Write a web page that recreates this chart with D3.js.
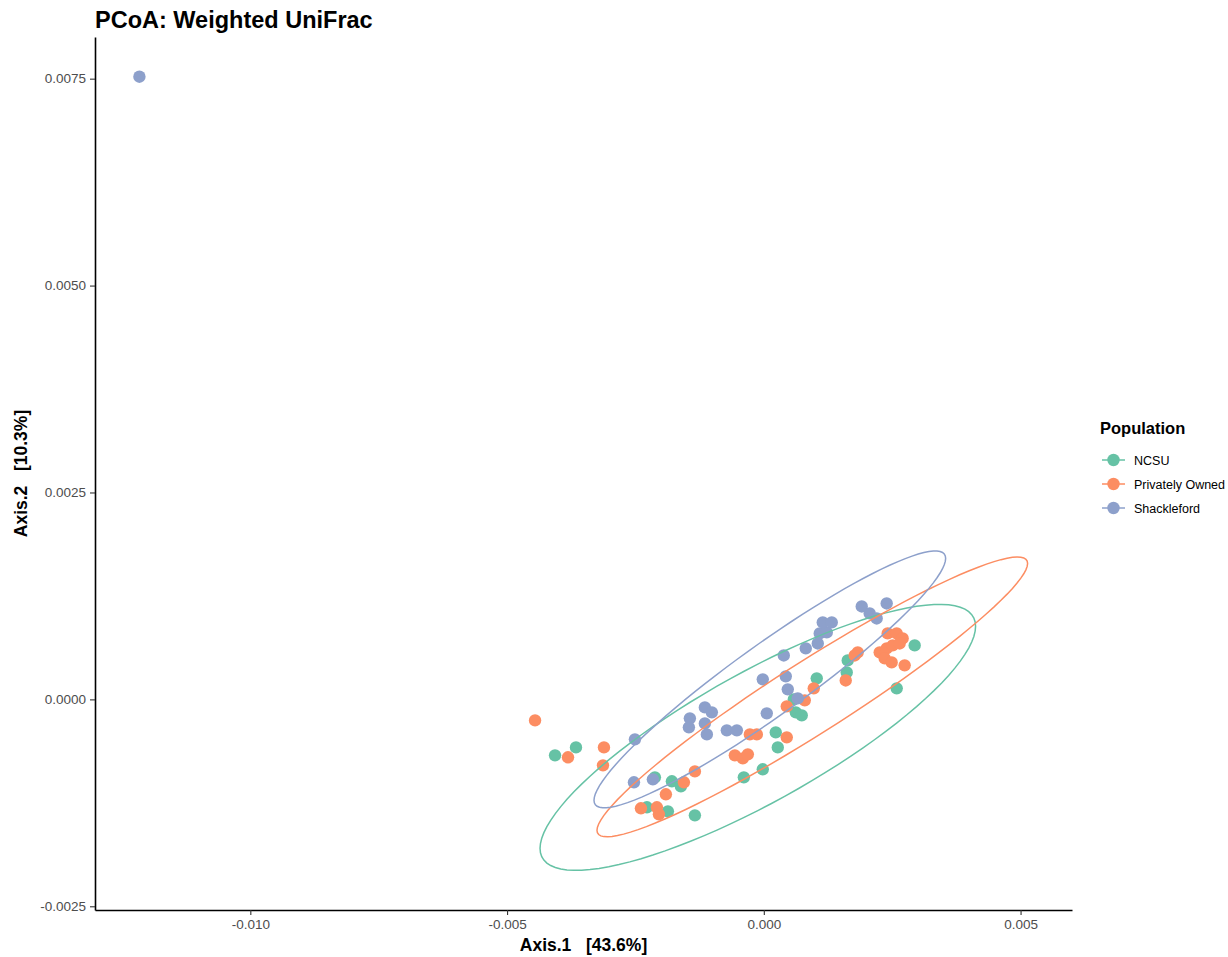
<!DOCTYPE html>
<html>
<head>
<meta charset="utf-8">
<script src="https://cdn.jsdelivr.net/npm/d3@7/dist/d3.min.js"></script>
<style>
  body { margin: 0; background: #ffffff; }
  svg { display: block; }
  text { font-family: "Liberation Sans", Arial, Helvetica, sans-serif; white-space: pre; }
</style>
</head>
<body>
<svg id="chart" width="1228" height="957"></svg>
<script>
// ---- Data: PCoA scores (Axis.1, Axis.2) per population ----
const groups = ["NCSU", "Privately Owned", "Shackleford"];
const groupColors = ["#66C2A5", "#FC8D62", "#8DA0CB"];

const ncsuX = [-0.004066, -0.003658, -0.002121, -0.001790, -0.001615, -0.002276, -0.001868, -0.001342,
  -0.000389, -0.000020, 0.000233, 0.000272, 0.000584, 0.000623, 0.000739, 0.001031, 0.001634, 0.001615,
  0.002938, 0.002588];
const ncsuY = [-0.000676, -0.000580, -0.000942, -0.000990, -0.001051, -0.001304, -0.001353, -0.001401,
  -0.000942, -0.000845, -0.000399, -0.000580, 0.000000, -0.000157, -0.000193, 0.000254, 0.000471, 0.000326,
  0.000652, 0.000133];

const ownedX = [-0.004455, -0.003813, -0.003113, -0.003132, -0.002393, -0.002082, -0.002043, -0.001907,
  -0.001556, -0.001342, -0.000564, -0.000409, -0.000311, -0.000272, -0.000136, 0.000447, 0.000447, 0.000798,
  0.000973, 0.001595, 0.001829, 0.001770, 0.002412, 0.002588, 0.002704, 0.002257, 0.002393, 0.002510,
  0.002646, 0.002354, 0.002490, 0.002743];
const ownedY = [-0.000254, -0.000700, -0.000580, -0.000797, -0.001316, -0.001304, -0.001389, -0.001147,
  -0.001002, -0.000870, -0.000676, -0.000713, -0.000664, -0.000423, -0.000423, -0.000459, -0.000085, -0.000012,
  0.000133, 0.000229, 0.000568, 0.000531, 0.000797, 0.000797, 0.000737, 0.000568, 0.000616, 0.000652,
  0.000676, 0.000495, 0.000447, 0.000411];

const shackX = [-0.012160, -0.002510, -0.002529, -0.002160, -0.001148, -0.001012, -0.001440, -0.001459,
  -0.001148, -0.001109, -0.000720, -0.000525, 0.000058, -0.000020, 0.000428, 0.000467, 0.000661, 0.000389,
  0.000817, 0.001051, 0.001089, 0.001226, 0.001148, 0.001323, 0.001907, 0.002062, 0.002198, 0.002393];
const shackY = [0.007524, -0.000483, -0.001002, -0.000966, -0.000097, -0.000157, -0.000229, -0.000338,
  -0.000290, -0.000423, -0.000374, -0.000374, -0.000169, 0.000242, 0.000278, 0.000121, 0.000012, 0.000531,
  0.000616, 0.000676, 0.000797, 0.000809, 0.000930, 0.000930, 0.001123, 0.001039, 0.000978, 0.001159];

// 95% ellipses: centre + [cos t, sin t] x [[a, b], [0, c]]
const ellipseCx = [-0.000117, 0.000944, 0.000117];
const ellipseCy = [-0.000459, 0.000030, 0.000242];
const ellipseA  = [0.004241, 0.004193, 0.003424];
const ellipseB  = [0.001341, 0.001612, 0.001461];
const ellipseC  = [0.000885, 0.000510, 0.000523];

const xTicks = [-0.010, -0.005, 0.000, 0.005];
const xTickLabels = ["-0.010", "-0.005", "0.000", "0.005"];
const yTicks = [-0.0025, 0.0000, 0.0025, 0.0050, 0.0075];
const yTickLabels = ["-0.0025", "0.0000", "0.0025", "0.0050", "0.0075"];

const titleText = "PCoA: Weighted UniFrac";
const xTitle = "Axis.1   [43.6%]";
const yTitle = "Axis.2   [10.3%]";
const legendTitle = "Population";

// ---- Build tidy rows ----
const seriesX = [ncsuX, ownedX, shackX];
const seriesY = [ncsuY, ownedY, shackY];
const points = [];
groups.forEach((g, gi) => {
  seriesX[gi].forEach((v, i) => points.push({ group: gi, x: v, y: seriesY[gi][i] }));
});

const ellipses = groups.map((g, gi) => {
  const pts = d3.range(0, 101).map(k => {
    const t = (k / 100) * 2 * Math.PI;
    return {
      x: ellipseCx[gi] + ellipseA[gi] * Math.cos(t),
      y: ellipseCy[gi] + ellipseB[gi] * Math.cos(t) + ellipseC[gi] * Math.sin(t)
    };
  });
  return { group: gi, pts };
});

// ---- Layout ----
const panel = { left: 95, right: 1072, top: 37, bottom: 910 };

// Domains span the points and ellipses, padded by 5% on each side
const allX = points.map(d => d.x).concat(...ellipses.map(e => e.pts.map(p => p.x)));
const allY = points.map(d => d.y).concat(...ellipses.map(e => e.pts.map(p => p.y)));
const [x0, x1] = d3.extent(allX);
const [y0, y1] = d3.extent(allY);
const padX = (x1 - x0) * 0.05, padY = (y1 - y0) * 0.05;

const x = d3.scaleLinear().domain([x0 - padX, x1 + padX]).range([panel.left, panel.right]);
const y = d3.scaleLinear().domain([y0 - padY, y1 + padY]).range([panel.bottom, panel.top]);

const svg = d3.select("#chart");

// ---- Points ----
svg.append("g")
  .selectAll("circle")
  .data(points)
  .join("circle")
  .attr("cx", d => x(d.x))
  .attr("cy", d => y(d.y))
  .attr("r", 6.2)
  .attr("fill", d => groupColors[d.group]);

// ---- Ellipses ----
const line = d3.line().x(p => x(p.x)).y(p => y(p.y)).curve(d3.curveLinearClosed);
svg.append("g")
  .selectAll("path")
  .data(ellipses)
  .join("path")
  .attr("d", e => line(e.pts))
  .attr("fill", "none")
  .attr("stroke", e => groupColors[e.group])
  .attr("stroke-width", 1.5);

// ---- Axes ----
const xAxis = d3.axisBottom(x).tickValues(xTicks).tickFormat((d, i) => xTickLabels[i])
  .tickSizeInner(5).tickSizeOuter(0).tickPadding(4);
const yAxis = d3.axisLeft(y).tickValues(yTicks).tickFormat((d, i) => yTickLabels[i])
  .tickSizeInner(5).tickSizeOuter(0).tickPadding(4);

const gx = svg.append("g").attr("transform", `translate(0,${panel.bottom})`).call(xAxis);
const gy = svg.append("g").attr("transform", `translate(${panel.left},0)`).call(yAxis);

[gx, gy].forEach(g => {
  g.select(".domain").attr("stroke", "#000").attr("stroke-width", 1.6);
  g.selectAll(".tick line").attr("stroke", "#333").attr("stroke-width", 1.1);
  g.selectAll(".tick text").attr("fill", "#4D4D4D").attr("font-size", 13.5)
    .attr("font-family", "'Liberation Sans', Arial, sans-serif");
});

// ---- Titles ----
svg.append("text").attr("x", panel.left).attr("y", 28)
  .attr("font-size", 23.5).attr("font-weight", "bold").attr("fill", "#000")
  .text(titleText);

svg.append("text")
  .attr("x", (panel.left + panel.right) / 2).attr("y", 951)
  .attr("text-anchor", "middle").attr("font-size", 17.5).attr("fill", "#000")
  .attr("font-weight", "bold")
  .text(xTitle);

svg.append("text")
  .attr("transform", `translate(27,${(panel.top + panel.bottom) / 2}) rotate(-90)`)
  .attr("text-anchor", "middle").attr("font-size", 17.5).attr("fill", "#000")
  .attr("font-weight", "bold")
  .text(yTitle);

// ---- Legend ----
const legend = svg.append("g").attr("transform", "translate(1100,0)");
legend.append("text").attr("x", 0).attr("y", 434)
  .attr("font-size", 16.5).attr("font-weight", "bold").attr("fill", "#000")
  .text(legendTitle);

const keyY = [460, 484, 508];
groups.forEach((g, gi) => {
  const k = legend.append("g").attr("transform", `translate(0,${keyY[gi]})`);
  k.append("line").attr("x1", 2).attr("x2", 25).attr("y1", 0).attr("y2", 0)
    .attr("stroke", groupColors[gi]).attr("stroke-width", 1.5);
  k.append("circle").attr("cx", 13.5).attr("cy", 0).attr("r", 6.2).attr("fill", groupColors[gi]);
  k.append("text").attr("x", 34).attr("y", 4.5).attr("font-size", 12.5).attr("fill", "#000").text(g);
});
</script>
</body>
</html>
